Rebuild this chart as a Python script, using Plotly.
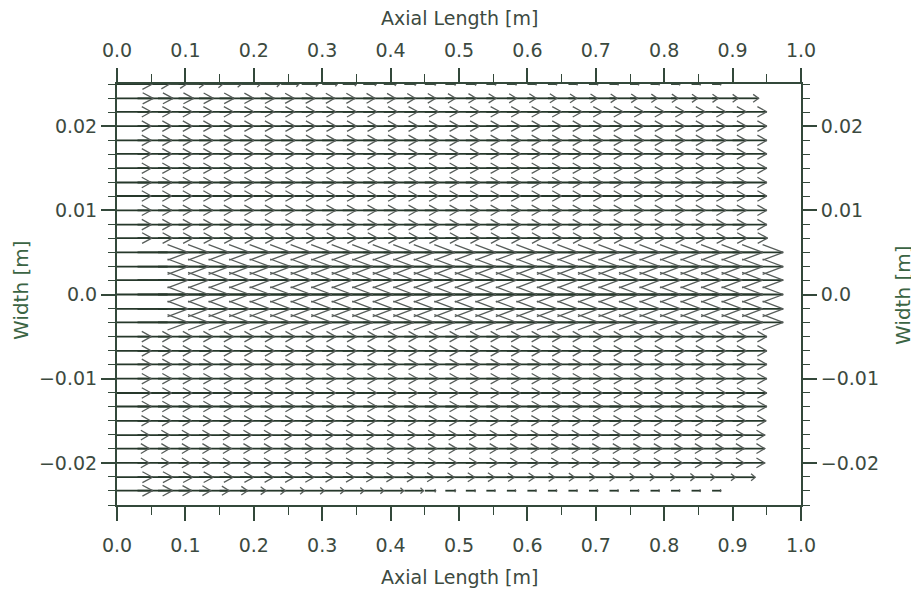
import plotly.graph_objects as go

# ---------------- data ----------------
# arrow tail positions along the axis [m]
x_cols = [0.00, 0.03, 0.06, 0.09, 0.12, 0.15, 0.18, 0.21, 0.24, 0.27, 0.30,
          0.33, 0.36, 0.39, 0.42, 0.45, 0.48, 0.51, 0.54, 0.57, 0.60,
          0.63, 0.66, 0.69, 0.72, 0.75, 0.78, 0.81, 0.84, 0.87, 0.90]

# row positions across the width [m]
y_rows = [0.0250, 0.0233, 0.0217, 0.0200, 0.0183, 0.0167, 0.0150, 0.0133,
          0.0117, 0.0100, 0.0083, 0.0067, 0.0050, 0.0033, 0.0017, 0.0000,
          -0.0017, -0.0033, -0.0050, -0.0067, -0.0083, -0.0100, -0.0117,
          -0.0133, -0.0150, -0.0167, -0.0183, -0.0200, -0.0217, -0.0233]

# axial velocity (drawn as arrow length) for rows that are uniform along x
# None -> row given by its own list below
u_profile = [None, None,
             0.050, 0.050, 0.050, 0.050, 0.050, 0.050, 0.050, 0.050, 0.050, 0.051,
             0.074, 0.074, 0.074, 0.074, 0.074, 0.074,
             0.050, 0.050, 0.050, 0.050, 0.050, 0.050, 0.049,
             0.047, 0.047, 0.047,
             None, None]

# rows of the central jet: the inlet column shows no arrow head
jet_rows = [0.0050, 0.0033, 0.0017, 0.0000, -0.0017, -0.0033]

# near-wall rows that slow down along the axis
u_top_wall = [0.052, 0.047, 0.042, 0.038, 0.035, 0.032, 0.030, 0.028, 0.026, 0.024,
              0.022, 0.020, 0.019, 0.018, 0.017, 0.016, 0.015, 0.015, 0.014, 0.014,
              0.013, 0.013, 0.013, 0.013, 0.013, 0.013, 0.013, 0.013, 0.013, 0.013, 0.0]
u_top_near = [0.053, 0.052, 0.052, 0.051, 0.051, 0.050, 0.050, 0.049, 0.049, 0.048,
              0.048, 0.047, 0.047, 0.046, 0.046, 0.045, 0.045, 0.044, 0.044, 0.043,
              0.043, 0.042, 0.042, 0.041, 0.041, 0.040, 0.040, 0.039, 0.039, 0.038, 0.038]
u_bottom_near = [0.052, 0.052, 0.051, 0.051, 0.050, 0.050, 0.049, 0.049, 0.048, 0.047,
                 0.047, 0.046, 0.045, 0.045, 0.044, 0.043, 0.043, 0.042, 0.041, 0.041,
                 0.040, 0.039, 0.039, 0.038, 0.037, 0.036, 0.036, 0.035, 0.034, 0.034, 0.033]
u_bottom_wall = [0.052, 0.051, 0.049, 0.047, 0.044, 0.041, 0.038, 0.036, 0.034, 0.033,
                 0.032, 0.031, 0.030, 0.029, 0.028, 0.016, 0.015, 0.014, 0.013, 0.013,
                 0.013, 0.013, 0.013, 0.013, 0.013, 0.013, 0.013, 0.013, 0.013, 0.013, 0.0]

x_ticks = [0.0, 0.1, 0.2, 0.3, 0.4, 0.5, 0.6, 0.7, 0.8, 0.9, 1.0]
x_tick_labels = ["0.0", "0.1", "0.2", "0.3", "0.4", "0.5", "0.6", "0.7", "0.8", "0.9", "1.0"]
y_ticks = [-0.02, -0.01, 0.0, 0.01, 0.02]
y_tick_labels = ["\u22120.02", "\u22120.01", "0.0", "0.01", "0.02"]

# ---------------- build arrows ----------------
special = {0: u_top_wall, 1: u_top_near, 28: u_bottom_near, 29: u_bottom_wall}
shaft_x, shaft_y, head_x, head_y = [], [], [], []
for r, y in enumerate(y_rows):
    row_u = special.get(r, [u_profile[r]] * len(x_cols))
    for c, x0 in enumerate(x_cols):
        L = row_u[c]
        if not L:
            continue
        tip = x0 + L
        shaft_x += [x0, tip, None]
        shaft_y += [y, y, None]
        if c == 0 and y in jet_rows:
            continue
        h = 5.5 * L * L
        w = 0.0124 * L
        head_x += [tip - h, tip, tip - h, None]
        head_y += [y + w, y, y - w, None]

shaft_col = "#26382b"
head_col = "#575d5a"
axis_col = "#33483a"
text_col = "#3c4a3f"
title_col = "#3b6444"
FONT = "DejaVu Sans"

fig = go.Figure()
fig.add_trace(go.Scatter(x=shaft_x, y=shaft_y, mode="lines",
                         line=dict(color=shaft_col, width=1.8), hoverinfo="skip",
                         showlegend=False))
fig.add_trace(go.Scatter(x=head_x, y=head_y, mode="lines",
                         line=dict(color=head_col, width=1.3), hoverinfo="skip",
                         showlegend=False))
# invisible trace on the secondary axes so they render
fig.add_trace(go.Scatter(x=[0.5], y=[0.0], xaxis="x2", yaxis="y2", mode="markers",
                         marker=dict(opacity=0), hoverinfo="skip", showlegend=False))

tickfont = dict(family=FONT, size=19, color=text_col)

xcommon = dict(range=[0, 1], tickvals=x_ticks, ticktext=x_tick_labels,
               ticks="outside", ticklen=14, tickwidth=1.5, tickcolor=axis_col,
               showline=True, linecolor=axis_col, linewidth=2, automargin=False,
               showgrid=False, zeroline=False, tickfont=tickfont,
               minor=dict(ticks="outside", dtick=0.05, tick0=0, ticklen=8,
                          tickwidth=1.2, tickcolor=axis_col, showgrid=False))
ycommon = dict(range=[-0.025, 0.025], tickvals=y_ticks, ticktext=y_tick_labels,
               ticks="outside", ticklen=14, tickwidth=1.5, tickcolor=axis_col,
               showline=True, linecolor=axis_col, linewidth=2, automargin=False,
               showgrid=False, zeroline=False, tickfont=tickfont,
               minor=dict(ticks="outside", dtick=0.01 / 6, tick0=0, ticklen=7,
                          tickwidth=1.2, tickcolor=axis_col, showgrid=False))

# page body has an 8 px margin; figure is sized/margined to compensate
W, H = 911, 587
ML, MR, MT, MB = 109, 118, 76, 90
PW, PH = W - ML - MR, H - MT - MB


def px(xp):
    return (xp - 8 - ML) / PW


def py(yp):
    return (H - MB - (yp - 8)) / PH


fig.update_layout(
    width=W, height=H,
    margin=dict(l=ML, r=MR, t=MT, b=MB, pad=0),
    paper_bgcolor="white", plot_bgcolor="white",
    xaxis=dict(**xcommon, side="bottom", anchor="y", ticklabelstandoff=8),
    xaxis2=dict(**xcommon, side="top", overlaying="x", anchor="y", ticklabelstandoff=3),
    yaxis=dict(**ycommon, side="left", anchor="x", ticklabelstandoff=0),
    yaxis2=dict(**ycommon, side="right", overlaying="y", anchor="x", ticklabelstandoff=0),
)

tfont = dict(family=FONT, size=19, color=text_col)
fig.add_annotation(text="Axial Length [m]", xref="paper", yref="paper",
                   x=px(459), y=py(18), showarrow=False, font=tfont,
                   xanchor="center", yanchor="middle")
fig.add_annotation(text="Axial Length [m]", xref="paper", yref="paper",
                   x=px(459), y=py(577), showarrow=False, font=tfont,
                   xanchor="center", yanchor="middle")
fig.add_annotation(text="Width [m]", xref="paper", yref="paper",
                   x=px(21), y=py(290), showarrow=False,
                   textangle=-90, font=dict(family=FONT, size=20, color=title_col),
                   xanchor="center", yanchor="middle")
fig.add_annotation(text="Width [m]", xref="paper", yref="paper",
                   x=px(903), y=py(295), showarrow=False,
                   textangle=-90, font=dict(family=FONT, size=20, color=title_col),
                   xanchor="center", yanchor="middle")

fig.write_html("out.html")
